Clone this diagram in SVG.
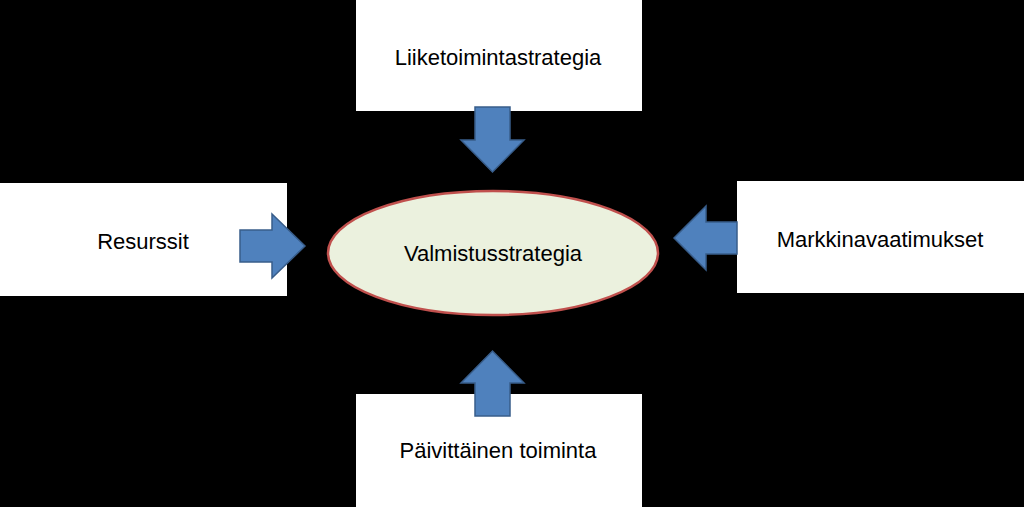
<svg xmlns="http://www.w3.org/2000/svg" width="1024" height="507" viewBox="0 0 1024 507">
<style>
.box{fill:#fff}
.t{font-family:"Liberation Sans",Arial,sans-serif;font-size:22px;fill:#000;text-anchor:middle;dominant-baseline:central}
.arr{fill:#4f81bd;stroke:#385d8a;stroke-width:1.5}
</style>
<rect width="1024" height="507" fill="#000"/>
<g id="top"><rect class="box" x="356" y="0" width="286" height="111"/><text class="t" x="498" y="57">Liiketoimintastrategia</text></g>
<g id="left"><rect class="box" x="0" y="183" width="287" height="113"/><text class="t" x="143" y="241">Resurssit</text></g>
<g id="right"><rect class="box" x="737" y="181" width="287" height="112"/><text class="t" x="880" y="239">Markkinavaatimukset</text></g>
<g id="bottom"><rect class="box" x="356" y="394" width="286" height="113"/><text class="t" x="498" y="450">Päivittäinen toiminta</text></g>
<g id="center"><ellipse cx="493" cy="253" rx="165" ry="62" fill="#ebf1de" stroke="#c0504d" stroke-width="2.5"/><text class="t" x="493" y="253">Valmistusstrategia</text></g>
<g id="connectors">
<polygon class="arr" points="475,107 510,107 510,140 524,140 492.5,172 461,140 475,140"/>
<polygon class="arr" points="240,230 272,230 272,214 305,246 272,278 272,262 240,262"/>
<polygon class="arr" points="737,222 706,222 706,206 674,238 706,270 706,254 737,254"/>
<polygon class="arr" points="475,416 510,416 510,383 524,383 492.5,351 461,383 475,383"/>
</g>
</svg>
